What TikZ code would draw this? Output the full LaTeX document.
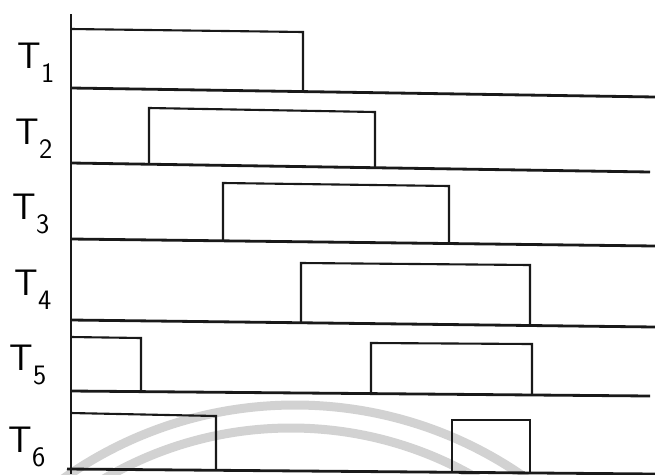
\documentclass[tikz,border=0pt]{standalone}

\newcommand{\lowdigit}[1]{\raisebox{-0.38em}{\fontsize{16}{17}\selectfont #1}}

\begin{document}
\begin{tikzpicture}[x=0.02cm,y=-0.02cm,
    base/.style={line width=1.6pt,black!90},
    pulse/.style={line width=1.2pt,black!90},
    axisline/.style={line width=0.7pt,black!90},
    lbl/.style={font=\sffamily\fontsize{21}{23}\selectfont,inner sep=0pt},
    mark arc/.style={line width=0.18cm,gray!35}]
  \useasboundingbox (0,0) rectangle (655,474);

  % faint arcs in the background
  \begin{scope}
    \clip (0,0) rectangle (655,474);
    \draw[mark arc] (295,806) circle[radius=401];
    \draw[mark arc] (291,797) circle[radius=369];
  \end{scope}

  \draw[axisline] (71,14) -- (71,474);

  % T1
  \draw[base] (71,88) -- (655,97);
  \draw[pulse] (71,29) -- (303,32) -- (303,91.5);
  % T2
  \draw[base] (71,163) -- (650,172);
  \draw[pulse] (149,164.2) -- (149,108) -- (375,112) -- (375,167.7);
  % T3
  \draw[base] (71,239) -- (655,246);
  \draw[pulse] (223,240.8) -- (223,183) -- (449,186) -- (449,243.5);
  % T4
  \draw[base] (71,320) -- (655,327);
  \draw[pulse] (301,322.8) -- (301,263) -- (530,265) -- (530,325.5);
  % T5
  \draw[base] (71,391) -- (650,396);
  \draw[pulse] (71,337) -- (141,338) -- (141,391.6);
  \draw[pulse] (371,393.6) -- (371,343) -- (532,344) -- (532,395);
  % T6
  \draw[base] (67,469) -- (655,474);
  \draw[pulse] (71,413) -- (216,416) -- (216,470.3);
  \draw[pulse] (452,472.3) -- (452,420) -- (530,420) -- (530,473);

  \node[lbl] (t1) at (36,63) {T\lowdigit{1}};
  \node[lbl] (t2) at (34,139) {T\lowdigit{2}};
  \node[lbl] (t3) at (31,214) {T\lowdigit{3}};
  \node[lbl] (t4) at (33,290) {T\lowdigit{4}};
  \node[lbl] (t5) at (28,365) {T\lowdigit{5}};
  \node[lbl] (t6) at (27,447) {T\lowdigit{6}};
\end{tikzpicture}
\end{document}
